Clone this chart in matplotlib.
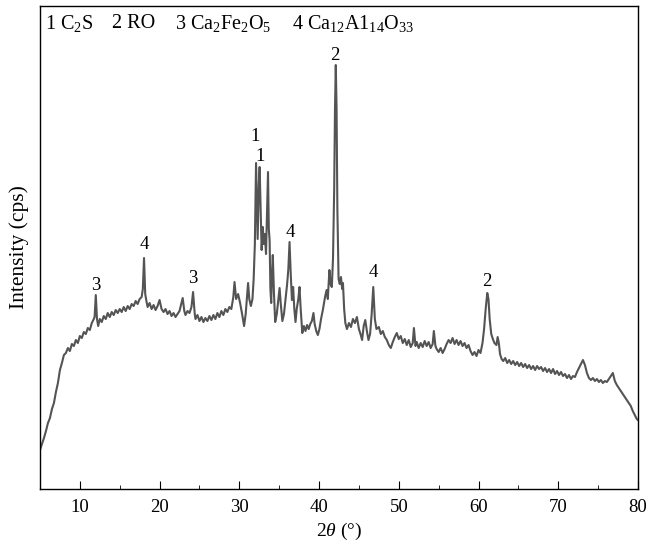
import matplotlib
matplotlib.use("Agg")
import matplotlib.pyplot as plt
from matplotlib.ticker import MultipleLocator

plt.rcParams['font.family'] = ['Liberation Serif', 'DejaVu Serif']
plt.rcParams['mathtext.fontset'] = 'custom'
plt.rcParams['mathtext.rm'] = 'Liberation Serif'
plt.rcParams['mathtext.it'] = 'Liberation Serif:italic'

# XRD pattern (arbitrary intensity units)
two_theta = [
    5.0, 5.25, 5.5, 5.75, 6.0, 6.25, 6.5, 6.75, 7.0, 7.25, 7.5, 7.75, 8.0, 8.25, 8.5, 8.75,
    9.0, 9.25, 9.5, 9.75, 10.0, 10.25, 10.5, 10.75, 11.0, 11.25, 11.5, 11.75, 11.85, 12.0,
    12.15, 12.3, 12.5, 12.75, 13.0, 13.25, 13.5, 13.75, 14.0, 14.25, 14.5, 14.75, 15.0, 15.25,
    15.5, 15.75, 16.0, 16.25, 16.5, 16.75, 17.0, 17.25, 17.5, 17.75, 17.9, 18.05, 18.2, 18.35,
    18.5, 18.75, 19.0, 19.25, 19.5, 19.75, 20.0, 20.25, 20.5, 20.75, 21.0, 21.25, 21.5, 21.75,
    22.0, 22.25, 22.5, 22.75, 22.9, 23.1, 23.25, 23.5, 23.75, 24.0, 24.2, 24.4, 24.5, 24.75,
    25.0, 25.25, 25.5, 25.75, 26.0, 26.25, 26.5, 26.75, 27.0, 27.25, 27.5, 27.75, 28.0, 28.25,
    28.5, 28.75, 29.0, 29.25, 29.4, 29.6, 29.85, 30.1, 30.35, 30.6, 30.8, 31.0, 31.1, 31.25,
    31.45, 31.65, 31.8, 31.95, 32.1, 32.2, 32.3, 32.45, 32.55, 32.7, 32.8, 32.95, 33.05, 33.2,
    33.35, 33.5, 33.6, 33.7, 33.8, 33.9, 34.0, 34.1, 34.2, 34.35, 34.5, 34.7, 34.9, 35.05,
    35.2, 35.4, 35.6, 35.8, 36.0, 36.15, 36.3, 36.45, 36.6, 36.75, 36.9, 37.05, 37.2, 37.4,
    37.55, 37.7, 37.9, 38.1, 38.3, 38.5, 38.7, 38.9, 39.1, 39.3, 39.45, 39.65, 39.85, 40.05,
    40.25, 40.5, 40.75, 40.95, 41.1, 41.3, 41.45, 41.6, 41.75, 41.9, 42.0, 42.1, 42.2, 42.3,
    42.45, 42.6, 42.75, 42.9, 43.0, 43.15, 43.3, 43.5, 43.75, 44.0, 44.25, 44.5, 44.75, 45.0,
    45.2, 45.4, 45.6, 45.8, 46.0, 46.2, 46.4, 46.6, 46.8, 47.0, 47.2, 47.5, 47.75, 48.0,
    48.25, 48.5, 48.75, 49.0, 49.25, 49.5, 49.75, 50.0, 50.25, 50.5, 50.75, 51.0, 51.25, 51.5,
    51.75, 51.9, 52.1, 52.25, 52.5, 52.75, 53.0, 53.25, 53.5, 53.75, 54.0, 54.25, 54.4, 54.6,
    54.75, 55.0, 55.25, 55.5, 55.75, 56.0, 56.25, 56.5, 56.75, 57.0, 57.25, 57.5, 57.75, 58.0,
    58.25, 58.5, 58.75, 59.0, 59.25, 59.5, 59.75, 60.0, 60.25, 60.5, 60.7, 60.9, 61.1, 61.25,
    61.4, 61.6, 61.8, 62.0, 62.25, 62.4, 62.55, 62.7, 62.9, 63.1, 63.35, 63.6, 63.85, 64.1,
    64.35, 64.6, 64.85, 65.1, 65.35, 65.6, 65.85, 66.1, 66.35, 66.6, 66.85, 67.1, 67.35, 67.6,
    67.85, 68.1, 68.35, 68.6, 68.85, 69.1, 69.35, 69.6, 69.85, 70.1, 70.35, 70.6, 70.85, 71.1,
    71.35, 71.6, 71.85, 72.1, 72.35, 72.6, 72.85, 73.1, 73.35, 73.6, 73.85, 74.1, 74.35, 74.6,
    74.85, 75.1, 75.35, 75.6, 75.85, 76.1, 76.35, 76.6, 76.85, 77.1, 77.35, 77.6, 77.85, 78.1,
    78.35, 78.6, 78.85, 79.1, 79.35, 79.6, 79.85, 80.0,
]
intensity = [
    39, 45, 51, 58, 66, 71, 80, 86, 97, 106, 119, 126, 134, 136, 141, 138,
    145, 143, 149, 146, 153, 151, 157, 155, 161, 159, 166, 170, 172, 194,
    170, 163, 170, 167, 173, 170, 176, 172, 177, 174, 179, 176, 180, 177,
    182, 178, 183, 180, 185, 183, 188, 185, 190, 192, 200, 231, 195, 188,
    182, 186, 180, 184, 179, 183, 189, 180, 177, 180, 175, 178, 173, 176,
    172, 175, 178, 186, 191, 178, 174, 178, 176, 182, 197, 176, 170, 174,
    168, 172, 167, 171, 168, 173, 169, 174, 170, 176, 172, 178, 174, 180,
    177, 182, 180, 192, 207, 190, 195, 186, 175, 163, 175, 195, 206, 190,
    183, 190, 210, 245, 326, 290, 250, 305, 322, 270, 239, 262, 245, 255,
    235, 285, 317, 260, 249, 200, 186, 215, 234, 195, 167, 175, 190, 201,
    185, 168, 175, 190, 205, 220, 247, 215, 189, 202, 180, 167, 180, 190,
    202, 180, 156, 163, 158, 164, 160, 165, 168, 176, 165, 158, 154, 160,
    170, 180, 192, 199, 190, 219, 205, 202, 230, 300, 380, 424, 380, 280,
    210, 205, 212, 200, 206, 180, 166, 160, 166, 162, 170, 166, 172, 160,
    155, 149, 163, 169, 158, 149, 155, 175, 202, 170, 160, 162, 155, 158,
    152, 149, 144, 141, 147, 152, 156, 150, 153, 146, 150, 144, 149, 142,
    146, 161, 143, 147, 141, 146, 142, 148, 143, 147, 141, 145, 158, 143,
    140, 137, 141, 136, 140, 145, 149, 146, 151, 145, 149, 144, 148, 143,
    146, 141, 144, 138, 134, 137, 133, 139, 136, 146, 160, 180, 196, 190,
    170, 155, 150, 146, 144, 152, 146, 135, 130, 128, 131, 126, 129, 125,
    128, 124, 127, 123, 126, 122, 125, 121, 124, 120, 123, 119, 123, 120,
    122, 118, 121, 117, 120, 116, 120, 115, 118, 114, 117, 113, 115, 111,
    114, 110, 113, 112, 117, 121, 125, 129, 124, 116, 111, 109, 111, 108,
    110, 107, 109, 106, 108, 107, 110, 113, 116, 108, 104, 101, 98, 95,
    92, 89, 86, 83, 78, 74, 70, 69,
]

# peak labels: phase number, 2theta, label height
peak_labels = ['3', '4', '3', '1', '1', '4', '2', '4', '2']
peak_x = [12.0, 18.1, 24.2, 32.0, 32.6, 36.4, 42.0, 46.8, 61.0]
peak_y = [204, 245, 211, 353, 333, 257, 434, 217, 208]

# phase key across the top
phase_names = [r"1 C$_2$S", "2 RO", r"3 Ca$_2$Fe$_2$O$_5$",
               r"4 Ca$_{12}$A1$_{14}$O$_{33}$"]
phase_pos = [0.008, 0.12, 0.226, 0.421]

fig = plt.figure(figsize=(6.49, 5.47), dpi=100)
ax = fig.add_axes([0.0616, 0.106, 0.9214, 0.883])

ax.plot(two_theta, intensity, color='#545454', lw=1.5)

for lab, px, py in zip(peak_labels, peak_x, peak_y):
    ax.text(px, py, lab, ha='center', va='center', fontsize=13.5)

for name, xp in zip(phase_names, phase_pos):
    ax.text(xp, 0.963, name, transform=ax.transAxes, ha='left', va='center',
            fontsize=14.5)

ax.set_xlim(5, 80)
ax.set_ylim(0, 483)
ax.xaxis.set_major_locator(MultipleLocator(10))
ax.xaxis.set_minor_locator(MultipleLocator(5))
ax.tick_params(axis='x', which='major', direction='in', length=6, labelsize=13.5, pad=7)
ax.tick_params(axis='x', which='minor', direction='in', length=3)
ax.set_yticks([])
for s in ax.spines.values():
    s.set_linewidth(1.0)

ax.set_xlabel(r"2$\it{\theta}$ (°)", fontsize=14, labelpad=4)
ax.set_ylabel("Intensity (cps)", fontsize=15.5, labelpad=8)

fig.savefig("out.png", dpi=100)
